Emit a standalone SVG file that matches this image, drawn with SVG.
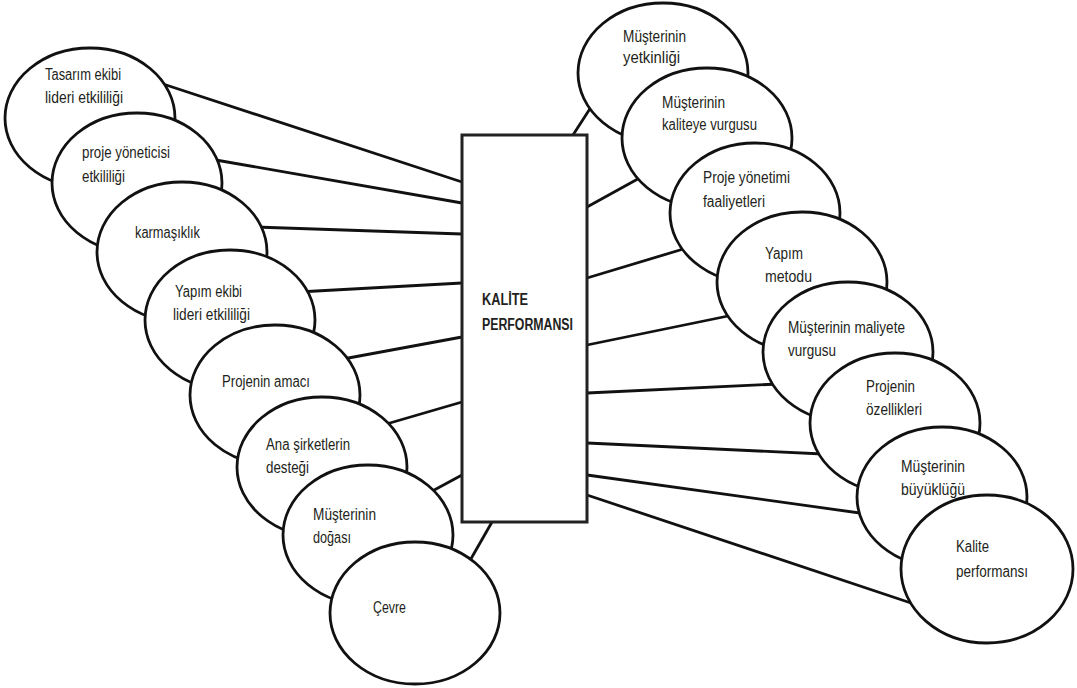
<svg xmlns="http://www.w3.org/2000/svg" width="1077" height="688" viewBox="0 0 1077 688">
<style>
.bg{fill:#ffffff}
.conn line{stroke:#111;stroke-width:2.8;stroke-linecap:round}
.node ellipse{fill:#ffffff;stroke:#111;stroke-width:2.8}
.node text{font-family:"Liberation Sans",Arial,sans-serif;font-size:16px;fill:#231f20}
.box rect{fill:#ffffff;stroke:#222;stroke-width:3}
.box text{font-family:"Liberation Sans",Arial,sans-serif;font-size:16px;font-weight:bold;fill:#231f20}
</style>
<rect class="bg" x="0" y="0" width="1077" height="688"/>
<g id="connectors" class="conn">
<line x1="462" y1="182" x2="160" y2="83"/>
<line x1="462" y1="203" x2="210" y2="159"/>
<line x1="462" y1="234" x2="255" y2="227"/>
<line x1="462" y1="283" x2="298" y2="292"/>
<line x1="462" y1="337" x2="343" y2="359"/>
<line x1="462" y1="402" x2="383" y2="425"/>
<line x1="462" y1="475" x2="425" y2="495"/>
<line x1="492" y1="522" x2="468" y2="564"/>
<line x1="573" y1="135" x2="593" y2="104"/>
<line x1="587" y1="207" x2="645" y2="175"/>
<line x1="587" y1="278" x2="690" y2="247"/>
<line x1="587" y1="345" x2="733" y2="315"/>
<line x1="587" y1="393" x2="778" y2="384"/>
<line x1="587" y1="443" x2="823" y2="454"/>
<line x1="587" y1="475" x2="867" y2="514"/>
<line x1="587" y1="495" x2="920" y2="606"/>
</g>
<g id="center-box" class="box">
<rect x="462" y="135" width="125" height="387"/>
<text x="482" y="305" textLength="46" lengthAdjust="spacingAndGlyphs">KALİTE</text>
<text x="482" y="330" textLength="91" lengthAdjust="spacingAndGlyphs">PERFORMANSI</text>
</g>
<g id="l1" class="node"><ellipse cx="90" cy="118" rx="85" ry="70"/><text x="45" y="80" textLength="76" lengthAdjust="spacingAndGlyphs">Tasarım ekibi</text><text x="45" y="103" textLength="78" lengthAdjust="spacingAndGlyphs">lideri etkililiği</text></g>
<g id="l2" class="node"><ellipse cx="137" cy="183" rx="85" ry="70"/><text x="82" y="158" textLength="88" lengthAdjust="spacingAndGlyphs">proje yöneticisi</text><text x="82" y="182" textLength="43" lengthAdjust="spacingAndGlyphs">etkililiği</text></g>
<g id="l3" class="node"><ellipse cx="182" cy="252" rx="85" ry="70"/><text x="135" y="238" textLength="65" lengthAdjust="spacingAndGlyphs">karmaşıklık</text></g>
<g id="l4" class="node"><ellipse cx="230" cy="320" rx="85" ry="70"/><text x="175" y="297" textLength="67" lengthAdjust="spacingAndGlyphs">Yapım ekibi</text><text x="173" y="320" textLength="77" lengthAdjust="spacingAndGlyphs">lideri etkililiği</text></g>
<g id="l5" class="node"><ellipse cx="275" cy="395" rx="85" ry="70"/><text x="222" y="387" textLength="88" lengthAdjust="spacingAndGlyphs">Projenin amacı</text></g>
<g id="l6" class="node"><ellipse cx="322" cy="467" rx="85" ry="70"/><text x="266" y="450" textLength="84" lengthAdjust="spacingAndGlyphs">Ana şirketlerin</text><text x="266" y="473" textLength="43" lengthAdjust="spacingAndGlyphs">desteği</text></g>
<g id="l7" class="node"><ellipse cx="368" cy="535" rx="85" ry="70"/><text x="313" y="520" textLength="63" lengthAdjust="spacingAndGlyphs">Müşterinin</text><text x="313" y="543" textLength="38" lengthAdjust="spacingAndGlyphs">doğası</text></g>
<g id="l8" class="node"><ellipse cx="415" cy="613" rx="85" ry="71"/><text x="373" y="613" textLength="33" lengthAdjust="spacingAndGlyphs">Çevre</text></g>
<g id="r1" class="node"><ellipse cx="663" cy="73" rx="85" ry="70"/><text x="623" y="42" textLength="63" lengthAdjust="spacingAndGlyphs">Müşterinin</text><text x="623" y="63" textLength="57" lengthAdjust="spacingAndGlyphs">yetkinliği</text></g>
<g id="r2" class="node"><ellipse cx="707" cy="138" rx="85" ry="70"/><text x="662" y="108" textLength="63" lengthAdjust="spacingAndGlyphs">Müşterinin</text><text x="662" y="130" textLength="95" lengthAdjust="spacingAndGlyphs">kaliteye vurgusu</text></g>
<g id="r3" class="node"><ellipse cx="755" cy="213" rx="85" ry="70"/><text x="703" y="183" textLength="87" lengthAdjust="spacingAndGlyphs">Proje yönetimi</text><text x="703" y="207" textLength="62" lengthAdjust="spacingAndGlyphs">faaliyetleri</text></g>
<g id="r4" class="node"><ellipse cx="802" cy="282" rx="85" ry="70"/><text x="765" y="259" textLength="38" lengthAdjust="spacingAndGlyphs">Yapım</text><text x="765" y="282" textLength="47" lengthAdjust="spacingAndGlyphs">metodu</text></g>
<g id="r5" class="node"><ellipse cx="848" cy="352" rx="85" ry="70"/><text x="788" y="333" textLength="117" lengthAdjust="spacingAndGlyphs">Müşterinin maliyete</text><text x="788" y="356" textLength="48" lengthAdjust="spacingAndGlyphs">vurgusu</text></g>
<g id="r6" class="node"><ellipse cx="895" cy="423" rx="85" ry="70"/><text x="866" y="392" textLength="49" lengthAdjust="spacingAndGlyphs">Projenin</text><text x="866" y="415" textLength="56" lengthAdjust="spacingAndGlyphs">özellikleri</text></g>
<g id="r7" class="node"><ellipse cx="942" cy="497" rx="85" ry="70"/><text x="901" y="472" textLength="64" lengthAdjust="spacingAndGlyphs">Müşterinin</text><text x="901" y="495" textLength="64" lengthAdjust="spacingAndGlyphs">büyüklüğü</text></g>
<g id="r8" class="node"><ellipse cx="987" cy="569" rx="86" ry="74"/><text x="956" y="552" textLength="33" lengthAdjust="spacingAndGlyphs">Kalite</text><text x="956" y="577" textLength="72" lengthAdjust="spacingAndGlyphs">performansı</text></g>
</svg>
